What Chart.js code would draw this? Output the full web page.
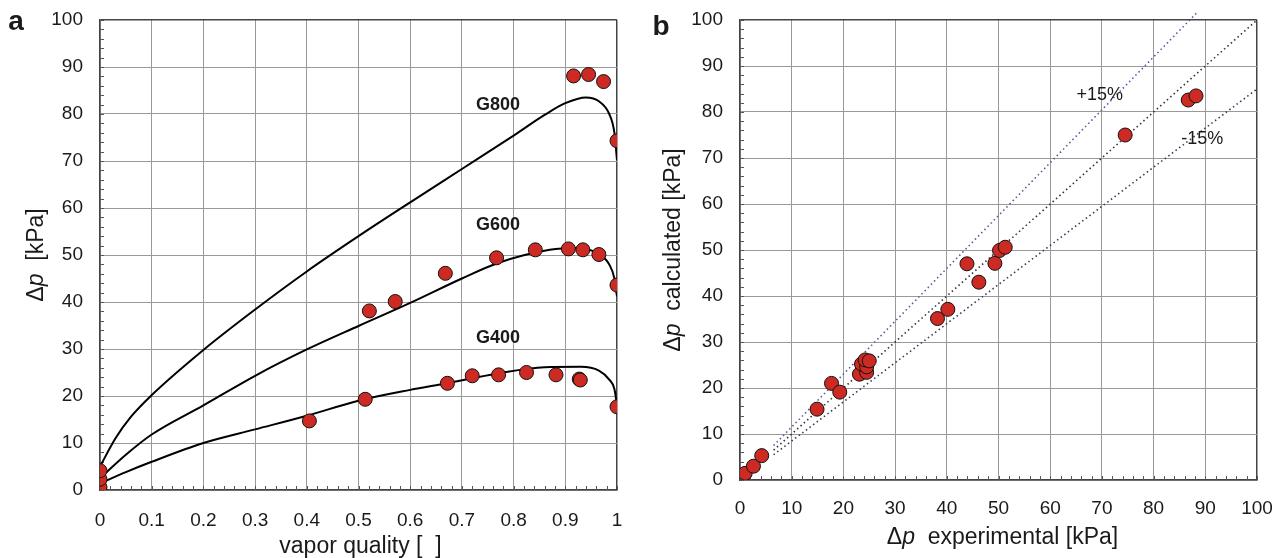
<!DOCTYPE html>
<html>
<head>
<meta charset="utf-8">
<script src="https://cdn.jsdelivr.net/npm/chart.js@4.4.1/dist/chart.umd.min.js"></script>
<style>
  body { margin: 0; background: #fff; width: 1280px; height: 558px; overflow: hidden; position: relative; }
  canvas { position: absolute; top: 0; }
</style>
</head>
<body>
<canvas id="panelA" width="640" height="558" style="left:0"></canvas>
<canvas id="panelB" width="640" height="558" style="left:640px"></canvas>
<script>
// ---- panel a: model curves ----
const curveQ800 = [0, 0.03, 0.06, 0.1, 0.2, 0.3, 0.4, 0.5, 0.6, 0.7, 0.8, 0.86, 0.9, 0.94, 0.965, 0.985, 0.995, 1.0];
const curveDp800 = [5.0, 11.0, 15.6, 20.2, 29.8, 38.4, 46.5, 54.0, 61.2, 68.3, 75.4, 79.8, 82.3, 83.5, 82.7, 80.0, 76.0, 70.2];
const curveQ600 = [0, 0.05, 0.1, 0.2, 0.3, 0.4, 0.5, 0.6, 0.7, 0.77, 0.87, 0.92, 0.96, 0.985, 0.995, 1.0];
const curveDp600 = [2.5, 7.5, 11.8, 18.0, 24.3, 29.9, 34.9, 39.8, 45.0, 48.3, 51.1, 51.5, 50.5, 48.0, 45.0, 41.2];
const curveQ400 = [0, 0.05, 0.1, 0.2, 0.3, 0.4, 0.5, 0.6, 0.67, 0.77, 0.86, 0.93, 0.965, 0.985, 0.995, 1.0];
const curveDp400 = [1.4, 3.8, 6.0, 10.0, 12.9, 15.8, 19.0, 21.3, 22.7, 24.8, 26.1, 26.2, 25.4, 23.5, 21.5, 18.0];

// ---- panel a: measured points ----
const pointQ800 = [0, 0.916, 0.945, 0.974, 1.0];
const pointDp800 = [4.1, 88.1, 88.4, 86.9, 74.3];
const pointQ600 = [0, 0.521, 0.571, 0.668, 0.767, 0.842, 0.906, 0.934, 0.965, 1.0];
const pointDp600 = [2.3, 38.1, 40.1, 46.1, 49.4, 51.1, 51.3, 51.1, 50.1, 43.6];
const pointQ400 = [0, 0.405, 0.513, 0.672, 0.720, 0.771, 0.825, 0.882, 0.927, 0.929, 1.0];
const pointDp400 = [0.6, 14.7, 19.3, 22.7, 24.3, 24.5, 25.0, 24.5, 23.6, 23.4, 17.7];

// ---- panel b: experimental vs calculated ----
const expDp = [1.0, 2.6, 4.2, 14.9, 17.7, 19.3, 23.1, 24.5, 23.5, 24.5, 24.2, 25.0, 38.2, 40.2, 43.9, 46.2, 49.3, 50.2, 51.3, 74.5, 86.7, 88.2];
const calcDp = [1.45, 3.0, 5.3, 15.4, 21.0, 19.1, 23.0, 23.4, 25.2, 24.6, 26.1, 25.9, 35.1, 37.1, 47.0, 43.0, 47.1, 49.9, 50.6, 75.0, 82.6, 83.5];

// deviation band lines (end points as drawn)
const equalX = [6.5, 100];
const equalY = [6.5, 100];
const plusX = [6.5, 88.3];
const plusY = [7.5, 101.5];
const minusX = [6.5, 100];
const minusY = [5.5, 85];

const FONT = '"Liberation Sans", Arial, sans-serif';
Chart.defaults.font.family = FONT;
Chart.defaults.color = '#1a1a1a';

const RED = 'rgb(204,42,34)';

function xy(xs, ys) {
    return xs.map((x, i) => ({ x: x, y: ys[i] }));
}

function pointSet(xs, ys) {
    return {
        data: xy(xs, ys),
        showLine: false,
        pointRadius: 7,
        pointBackgroundColor: RED,
        pointBorderColor: '#111',
        pointBorderWidth: 1,
        order: 1
    };
}

function curveSet(xs, ys, color, width, dash) {
    return {
        data: xy(xs, ys),
        showLine: true,
        pointRadius: 0,
        borderColor: color,
        borderWidth: width,
        borderDash: dash || [],
        cubicInterpolationMode: 'monotone',
        fill: false,
        order: 2
    };
}

// small ticks inside the frame, between the grid lines
const minorTicks = {
    id: 'minorTicks',
    beforeDatasetsDraw(chart, args, opts) {
        const { ctx, chartArea, scales } = chart;
        ctx.save();
        ctx.strokeStyle = '#555';
        ctx.lineWidth = 1;
        ctx.beginPath();
        for (let i = 0; i <= opts.xCount; i++) {
            const px = Math.round(scales.x.getPixelForValue(scales.x.min + i * opts.xStep)) + 0.5;
            ctx.moveTo(px, chartArea.bottom);
            ctx.lineTo(px, chartArea.bottom - 4);
        }
        for (let i = 0; i <= opts.yCount; i++) {
            const py = Math.round(scales.y.getPixelForValue(scales.y.min + i * opts.yStep)) + 0.5;
            ctx.moveTo(chartArea.left, py);
            ctx.lineTo(chartArea.left + 4, py);
        }
        ctx.stroke();
        ctx.restore();
    }
};

// text with mixed upright / italic parts
function drawParts(ctx, parts, size, weight, x, y, angle) {
    ctx.save();
    ctx.translate(x, y);
    ctx.rotate(angle || 0);
    ctx.fillStyle = '#1a1a1a';
    ctx.textBaseline = 'alphabetic';
    let total = 0;
    parts.forEach(p => {
        ctx.font = (p.i ? 'italic ' : '') + weight + ' ' + size + 'px ' + FONT;
        total += ctx.measureText(p.t).width;
    });
    let cx = -total / 2;
    parts.forEach(p => {
        ctx.font = (p.i ? 'italic ' : '') + weight + ' ' + size + 'px ' + FONT;
        ctx.fillText(p.t, cx, 0);
        cx += ctx.measureText(p.t).width;
    });
    ctx.restore();
}

// axis titles, panel letter and labels placed in data space
const annotations = {
    id: 'annotations',
    afterDatasetsDraw(chart, args, opts) {
        const { ctx, chartArea, scales } = chart;
        const midX = (chartArea.left + chartArea.right) / 2;
        const midY = (chartArea.top + chartArea.bottom) / 2;
        drawParts(ctx, opts.xTitle, 23, 'normal', midX + opts.xTitleShift, chartArea.bottom + opts.xTitleDrop, 0);
        drawParts(ctx, opts.yTitle, 23, 'normal', chartArea.left - opts.yTitleGap, midY, -Math.PI / 2);
        drawParts(ctx, [{ t: opts.letter }], 28, 'bold', opts.letterX, opts.letterY, 0);
        opts.labels.forEach(l => {
            const px = scales.x.getPixelForValue(l.x);
            const py = scales.y.getPixelForValue(l.y);
            drawParts(ctx, [{ t: l.text }], 18, l.bold ? 'bold' : 'normal', px, py, 0);
        });
    }
};

function gridColor(edge) {
    return c => (c.tick && Math.abs(c.tick.value - edge) < 1e-9) ? '#444' : '#999';
}
function gridWidth(edge) {
    return c => (c.tick && Math.abs(c.tick.value - edge) < 1e-9) ? 1.5 : 1;
}

function makeScales(xMax, xStep, xFmt, axisHeight, xPad) {
    return {
        x: {
            type: 'linear', min: 0, max: xMax,
            afterFit: s => { s.height = axisHeight; s.paddingLeft = 0; s.paddingRight = 0; },
            ticks: { stepSize: xStep, padding: xPad, font: { size: 19 }, callback: xFmt, maxRotation: 0, autoSkip: false },
            grid: { color: gridColor(xMax), lineWidth: gridWidth(xMax), drawTicks: false },
            border: { display: true, color: '#444', width: 1.5 }
        },
        y: {
            type: 'linear', min: 0, max: 100,
            // fixed width and no extra padding, so the frame sits where the figure has it
            afterFit: s => { s.width = 100; s.paddingTop = 0; s.paddingBottom = 0; },
            ticks: { stepSize: 10, padding: 17, font: { size: 19 } },
            grid: { color: gridColor(100), lineWidth: gridWidth(100), drawTicks: false },
            border: { display: true, color: '#444', width: 1.5 }
        }
    };
}

// ---- panel a ----
new Chart(document.getElementById('panelA'), {
    type: 'scatter',
    data: {
        datasets: [
            pointSet(pointQ800, pointDp800),
            pointSet(pointQ600, pointDp600),
            pointSet(pointQ400, pointDp400),
            curveSet(curveQ800, curveDp800, '#000', 2),
            curveSet(curveQ600, curveDp600, '#000', 2),
            curveSet(curveQ400, curveDp400, '#000', 2)
        ]
    },
    options: {
        responsive: false,
        animation: false,
        layout: { padding: { top: 20, right: 23, left: 0, bottom: 0 } },
        scales: makeScales(1, 0.1, v => String(+v.toFixed(1)), 68, 19),
        plugins: {
            legend: { display: false },
            tooltip: { enabled: false },
            minorTicks: { xStep: 0.02, xCount: 50, yStep: 2, yCount: 50 },
            annotations: {
                xTitle: [{ t: 'vapor quality [  ]' }],
                xTitleShift: 2, xTitleDrop: 63,
                yTitle: [{ t: '\u0394' }, { t: 'p', i: true }, { t: '  [kPa]' }],
                yTitleGap: 57,
                letter: 'a', letterX: 16, letterY: 30,
                labels: [
                    { text: 'G800', x: 0.77, y: 80.9, bold: true },
                    { text: 'G600', x: 0.77, y: 55.3, bold: true },
                    { text: 'G400', x: 0.77, y: 31.3, bold: true }
                ]
            }
        }
    },
    plugins: [minorTicks, annotations]
});

// ---- panel b ----
const plusSet = curveSet(plusX, plusY, '#5a5aa0', 1.6, [1.5, 3]);
plusSet.clip = false;

new Chart(document.getElementById('panelB'), {
    type: 'scatter',
    data: {
        datasets: [
            pointSet(expDp, calcDp),
            plusSet,
            curveSet(equalX, equalY, '#333', 1.6, [1.5, 3]),
            curveSet(minusX, minusY, '#3a3a5a', 1.6, [1.5, 3])
        ]
    },
    options: {
        responsive: false,
        animation: false,
        layout: { padding: { top: 20, right: 23, left: 0, bottom: 0 } },
        scales: makeScales(100, 10, v => String(v), 78, 17),
        plugins: {
            legend: { display: false },
            tooltip: { enabled: false },
            minorTicks: { xStep: 2, xCount: 50, yStep: 2, yCount: 50 },
            annotations: {
                xTitle: [{ t: '\u0394' }, { t: 'p', i: true }, { t: '  experimental [kPa]' }],
                xTitleShift: 4, xTitleDrop: 64,
                yTitle: [{ t: '\u0394' }, { t: 'p', i: true }, { t: '  calculated [kPa]' }],
                yTitleGap: 60,
                letter: 'b', letterX: 21, letterY: 35,
                labels: [
                    { text: '+15%', x: 69.6, y: 82.6 },
                    { text: '-15%', x: 89.4, y: 73.1 }
                ]
            }
        }
    },
    plugins: [minorTicks, annotations]
});
</script>
</body>
</html>
